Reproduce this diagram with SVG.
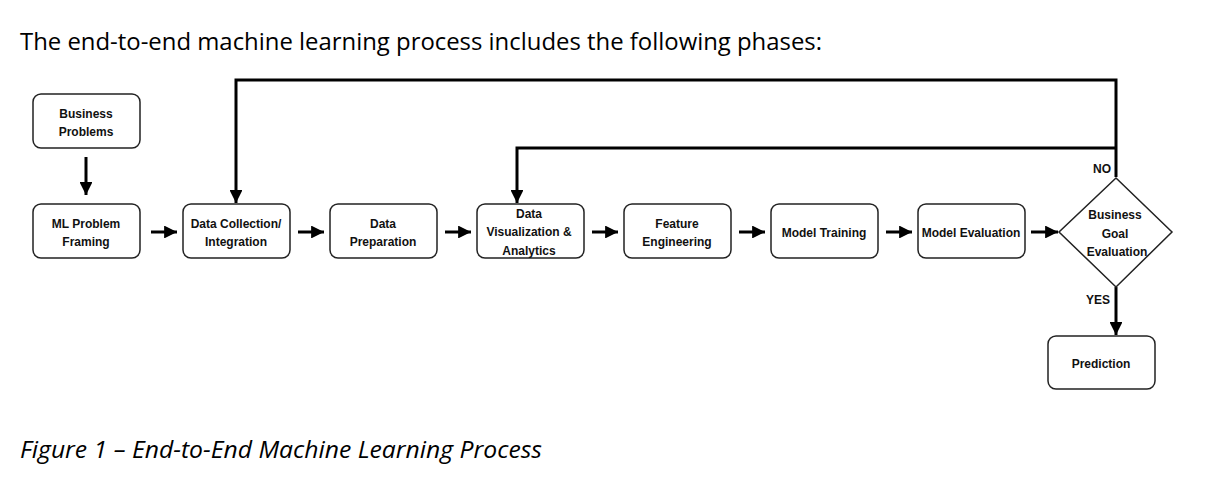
<svg xmlns="http://www.w3.org/2000/svg" width="1223" height="477" viewBox="0 0 1223 477">
<style>
.box{fill:#fff;stroke:#222;stroke-width:1.5}
.t{font-family:"Liberation Sans",Arial,sans-serif;font-weight:bold;font-size:12px;fill:#111;text-anchor:middle}
.c{fill:none;stroke:#000;stroke-width:3}
.head{font-family:"Open Sans","Noto Sans",sans-serif;font-size:23px;fill:#000}
</style>
<defs>
<marker id="ah" viewBox="0 0 10 10" refX="10" refY="5" markerWidth="4.3" markerHeight="4.3" markerUnits="strokeWidth" orient="auto">
<path d="M0,0 L10,5 L0,10 z" fill="#000"/>
</marker>
</defs>
<rect width="1223" height="477" fill="#fff"/>
<text class="head" x="20" y="50" textLength="802" lengthAdjust="spacingAndGlyphs">The end-to-end machine learning process includes the following phases:</text>
<text class="head" x="20" y="458" font-style="italic" textLength="522" lengthAdjust="spacingAndGlyphs">Figure 1 – End-to-End Machine Learning Process</text>

<g id="connectors">
<path class="c" d="M86,157 V195" marker-end="url(#ah)"/>
<path class="c" d="M151,232 H177" marker-end="url(#ah)"/>
<path class="c" d="M298,232 H324" marker-end="url(#ah)"/>
<path class="c" d="M445,232 H471" marker-end="url(#ah)"/>
<path class="c" d="M592,232 H618" marker-end="url(#ah)"/>
<path class="c" d="M739,232 H765" marker-end="url(#ah)"/>
<path class="c" d="M886,232 H912" marker-end="url(#ah)"/>
<path class="c" d="M1031,232 H1058" marker-end="url(#ah)"/>
<path class="c" d="M1116,177 V80 H236 V203" marker-end="url(#ah)"/>
<path class="c" d="M1116,148 H517 V203" marker-end="url(#ah)"/>
<path class="c" d="M1116,287 V335" marker-end="url(#ah)"/>
<text class="t" x="1102" y="173">NO</text>
<text class="t" x="1098" y="304">YES</text>
</g>

<g id="business-problems"><rect class="box" x="33" y="94" width="107" height="54" rx="8"/><text class="t" x="86" y="118">Business</text><text class="t" x="86" y="136">Problems</text></g>
<g id="ml-problem-framing"><rect class="box" x="33" y="204" width="107" height="54" rx="8"/><text class="t" x="86" y="228">ML Problem</text><text class="t" x="86" y="246">Framing</text></g>
<g id="data-collection"><rect class="box" x="183" y="204" width="107" height="54" rx="8"/><text class="t" x="236" y="228">Data Collection/</text><text class="t" x="236" y="246">Integration</text></g>
<g id="data-preparation"><rect class="box" x="330" y="204" width="107" height="54" rx="8"/><text class="t" x="383" y="228">Data</text><text class="t" x="383" y="246">Preparation</text></g>
<g id="data-visualization"><rect class="box" x="477" y="204" width="107" height="54" rx="8"/><text class="t" x="529" y="218">Data</text><text class="t" x="529" y="236">Visualization &amp;</text><text class="t" x="529" y="255">Analytics</text></g>
<g id="feature-engineering"><rect class="box" x="624" y="204" width="107" height="54" rx="8"/><text class="t" x="677" y="228">Feature</text><text class="t" x="677" y="246">Engineering</text></g>
<g id="model-training"><rect class="box" x="771" y="204" width="107" height="54" rx="8"/><text class="t" x="824" y="237">Model Training</text></g>
<g id="model-evaluation"><rect class="box" x="918" y="204" width="107" height="54" rx="8"/><text class="t" x="971" y="237">Model Evaluation</text></g>
<g id="business-goal-evaluation"><path class="box" d="M1116,178 L1172,232 L1116,287 L1059,232 Z"/><text class="t" x="1115" y="219">Business</text><text class="t" x="1115" y="238">Goal</text><text class="t" x="1117" y="256">Evaluation</text></g>
<g id="prediction"><rect class="box" x="1048" y="336" width="107" height="53" rx="8"/><text class="t" x="1101" y="368">Prediction</text></g>
</svg>
